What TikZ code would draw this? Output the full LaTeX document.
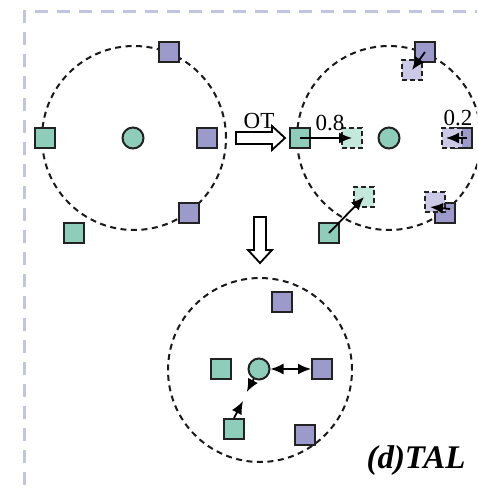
\documentclass[tikz,border=0pt]{standalone}
\usepackage{fontspec}
\setmainfont{Liberation Serif}
\usetikzlibrary{arrows.meta}
\definecolor{gfill}{HTML}{8ECDB9}
\definecolor{pfill}{HTML}{9C9ACB}
\definecolor{glight}{HTML}{C4E8DC}
\definecolor{plight}{HTML}{CBCAE6}
\definecolor{edge}{HTML}{222222}
\definecolor{frame}{HTML}{C3C3E2}
\tikzset{
  sq/.style={rectangle, minimum size=20pt, inner sep=0pt, draw=edge, line width=2pt},
  gsq/.style={sq, fill=gfill},
  psq/.style={sq, fill=pfill},
  gdsq/.style={sq, fill=glight, dash pattern=on 5pt off 3pt},
  pdsq/.style={sq, fill=plight, dash pattern=on 5pt off 3pt},
  ctr/.style={circle, minimum size=21pt, inner sep=0pt, draw=edge, line width=2pt, fill=gfill},
  ring/.style={draw=black!90, line width=2pt, dash pattern=on 6pt off 4.5pt},
  tipL/.tip={Latex[length=13pt,width=11pt]},
  mv/.style={line width=1.8pt, -tipL},
  hollow/.style={draw=black, line width=1.8pt, fill=white, line join=miter},
  lbl/.style={inner sep=0pt, font=\fontsize{23}{26}\selectfont}
}
\begin{document}
\begin{tikzpicture}[x=1pt,y=-1pt]
\useasboundingbox (0,0) rectangle (477,489);
\clip (0,0) rectangle (477,489);
\fill[white] (0,0) rectangle (477,489);
% frame
\draw[frame, line width=3pt, dash pattern=on 13pt off 9pt] (24,10) -- (24,489);
\draw[frame, line width=3pt, dash pattern=on 13pt off 9pt] (35,12) -- (477,12);

% left panel
\node[ring, circle, minimum size=184pt, inner sep=0pt] (ringA) at (134,138) {};
\node[ctr] (cA) at (133,138) {};
\node[gsq] (gA1) at (45,138) {};
\node[gsq] (gA2) at (74,233) {};
\node[psq] (pA1) at (169,52) {};
\node[psq] (pA2) at (207,138) {};
\node[psq] (pA3) at (189,213) {};

% OT arrow
\draw[hollow] (236,132) -- (272,132) -- (272,126) -- (285,138) -- (272,150) -- (272,144) -- (236,144) -- cycle;
\node[lbl] (ot) at (259,121) {OT};

% right panel
\node[ring, circle, minimum size=184pt, inner sep=0pt] (ringB) at (389,138) {};
\node[ctr] (cB) at (389,138) {};
\node[gsq] (gB1) at (300,138) {};
\node[gdsq] (gB1d) at (352,138) {};
\draw[mv] (gB1.center) -- (gB1d.center);
\node[lbl] (l08) at (330,123) {0.8};

\node[gsq] (gB2) at (329,233) {};
\node[gdsq] (gB2d) at (364,197) {};
\draw[mv] (gB2.center) -- (gB2d.center);

\node[pdsq] (pB1d) at (412,70) {};
\node[psq] (pB1) at (425,52) {};
\draw[mv] (pB1.center) -- (pB1d.center);

\node[psq] (pB2) at (462,138) {};
\node[pdsq] (pB2d) at (452,138) {};
\draw[mv] ([xshift=5pt]pB2.center) -- ([xshift=-6pt]pB2d.center);
\node[lbl] (l02) at (458,118) {0.2};

\node[psq] (pB3) at (445,213) {};
\node[pdsq] (pB3d) at (435,202) {};
\draw[mv] ([shift={(5pt,4pt)}]pB3.center) -- ([shift={(-5pt,-5pt)}]pB3d.center);

% down arrow
\draw[hollow] (254,217) -- (266,217) -- (266,250) -- (272,250) -- (260,263) -- (248,250) -- (254,250) -- cycle;

% bottom panel
\node[ring, circle, minimum size=184pt, inner sep=0pt] (ringC) at (260,370) {};
\node[ctr] (cC) at (259,369) {};
\node[gsq] (gC1) at (221,369) {};
\node[gsq] (gC2) at (234,429) {};
\node[psq] (pC1) at (282,302) {};
\node[psq] (pC2) at (322,369) {};
\node[psq] (pC3) at (305,435) {};
\draw[line width=1.8pt, tipL-tipL] (cC.east) -- (pC2.west);
\coordinate (mU) at (246.8,392);
\coordinate (mL) at (243,401);
\draw[mv] (gC2.north) -- (mL);
\draw[mv] (cC) -- (mU);

\node[inner sep=0pt, font=\fontsize{33}{36}\selectfont\bfseries\itshape] (tal) at (416,461) {(d)TAL};
\end{tikzpicture}
\end{document}
